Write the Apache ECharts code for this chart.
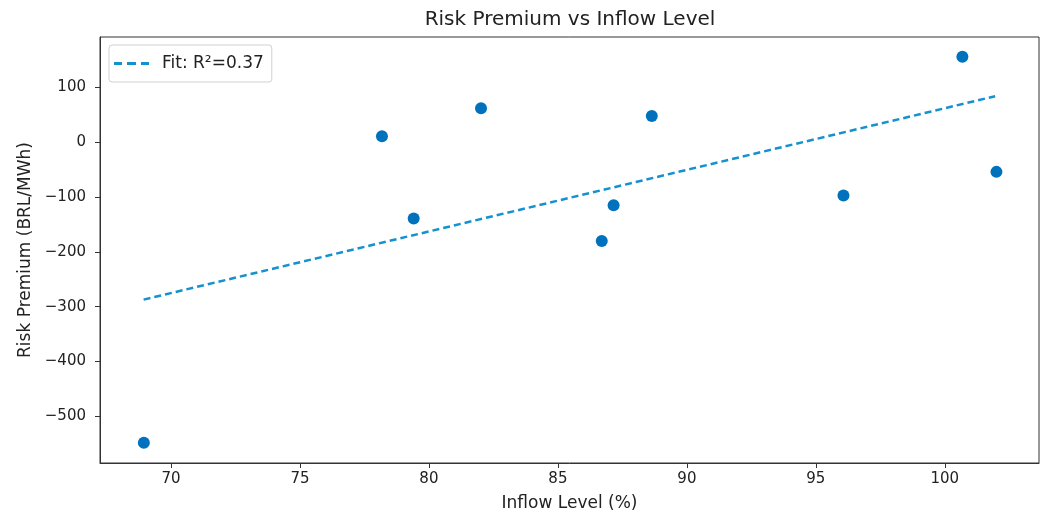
<!DOCTYPE html>
<html>
<head>
<meta charset="utf-8">
<script src="https://cdn.jsdelivr.net/npm/echarts@6/dist/echarts.min.js"></script>
<style>
  html, body { margin: 0; padding: 0; background: #fff; }
  #chart { width: 1043px; height: 518px; }
</style>
</head>
<body>
<div id="chart"></div>
<script>
// inflow level (%) per observation
var inflow = [68.95, 78.18, 79.41, 82.02, 86.70, 87.16, 88.64, 96.07, 100.68, 102.0];
// risk premium (BRL/MWh)
var premium = [-548, 11, -139, 62, -180, -115, 48, -97, 156, -54];
// fitted line end points
var fitX = [68.94, 101.95];
var fitY = [-287, 84];
// tick labels
var xTicks = [70, 75, 80, 85, 90, 95, 100];
var yTicks = [-500, -400, -300, -200, -100, 0, 100];

var font = 'DejaVu Sans';
var fitColor = '#1591D0';
var chart = echarts.init(document.getElementById('chart'), null, { renderer: 'canvas' });

var points = inflow.map(function (x, i) { return [x, premium[i]]; });
var fitLine = fitX.map(function (x, i) { return [x, fitY[i]]; });

var option = {
  animation: false,
  backgroundColor: '#fff',
  title: {
    text: 'Risk Premium vs Inflow Level',
    left: 565,
    textAlign: 'center',
    top: 5,
    textStyle: { fontFamily: font, fontSize: 20, fontWeight: 'normal', color: '#222' }
  },
  grid: {
    left: 100, right: 4, top: 37, bottom: 55,
    show: true, borderColor: '#333', borderWidth: 1
  },
  legend: {
    left: 109, top: 45,
    orient: 'vertical',
    itemWidth: 35, itemHeight: 3,
    itemGap: 0,
    padding: [10, 8, 10, 5],
    borderColor: '#d0d0d0', borderWidth: 1, borderRadius: 3,
    itemStyle: { color: fitColor },
    textStyle: { fontFamily: font, fontSize: 17, color: '#222', padding: [0, 0, 0, 8] },
    data: [{
      name: 'Fit: R²=0.37',
      // dashed sample like the fit line
      icon: 'path://M0,0h8v3h-8z M13,0h9v3h-9z M27,0h8v3h-8z'
    }]
  },
  xAxis: {
    type: 'value',
    min: 67.25, max: 103.65,
    name: 'Inflow Level (%)',
    nameLocation: 'middle',
    nameGap: 32,
    nameTextStyle: { fontFamily: font, fontSize: 17, color: '#222' },
    splitLine: { show: false },
    axisLine: { show: true, onZero: false, lineStyle: { color: '#333' } },
    axisTick: { show: true, length: 5, customValues: xTicks, lineStyle: { color: '#333' } },
    axisLabel: { customValues: xTicks, fontFamily: font, fontSize: 15, color: '#222', margin: 9 }
  },
  yAxis: {
    type: 'value',
    min: -585, max: 192,
    name: 'Risk Premium (BRL/MWh)',
    nameLocation: 'middle',
    nameGap: 63,
    nameTextStyle: { fontFamily: font, fontSize: 17, color: '#222' },
    splitLine: { show: false },
    axisLine: { show: true, onZero: false, lineStyle: { color: '#333' } },
    axisTick: { show: true, length: 5, customValues: yTicks, lineStyle: { color: '#333' } },
    axisLabel: {
      customValues: yTicks, fontFamily: font, fontSize: 15, color: '#222', margin: 14,
      formatter: function (v) { return String(v).replace('-', '\u2212'); }
    }
  },
  series: [
    {
      name: 'points',
      type: 'scatter',
      symbolSize: 12,
      itemStyle: { color: '#0072BD', opacity: 1 },
      data: points,
      z: 3
    },
    {
      name: 'Fit: R²=0.37',
      type: 'line',
      symbol: 'none',
      lineStyle: { color: fitColor, width: 2.5, type: [7, 4] },
      itemStyle: { color: fitColor },
      data: fitLine,
      z: 2
    }
  ]
};

chart.setOption(option);
</script>
</body>
</html>
